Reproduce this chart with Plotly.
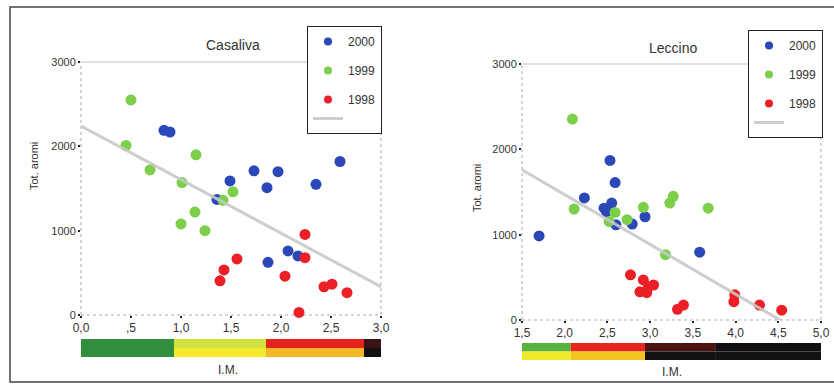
import plotly.graph_objects as go

# ---------------- data ----------------
cas_2000_x = [0.83, 0.89, 1.73, 1.97, 2.59, 1.49, 1.86, 2.35, 1.36, 2.07, 2.17, 1.87]
cas_2000_y = [2190, 2170, 1710, 1700, 1820, 1590, 1510, 1550, 1370, 760, 700, 625]
cas_1999_x = [0.50, 0.45, 0.69, 1.15, 1.01, 1.52, 1.42, 1.14, 1.00, 1.24]
cas_1999_y = [2550, 2010, 1720, 1900, 1570, 1460, 1360, 1220, 1080, 1000]
cas_1998_x = [2.24, 2.24, 1.56, 1.43, 1.39, 2.04, 2.43, 2.51, 2.66, 2.18]
cas_1998_y = [955, 680, 665, 535, 405, 460, 335, 365, 265, 30]
cas_fit_x = [0.0, 3.0]
cas_fit_y = [2240, 335]

lec_2000_x = [1.70, 2.23, 2.53, 2.59, 2.46, 2.55, 2.49, 2.60, 2.79, 2.94, 3.58]
lec_2000_y = [985, 1430, 1870, 1610, 1310, 1370, 1270, 1115, 1125, 1210, 795]
lec_1999_x = [2.09, 2.11, 2.59, 2.52, 2.73, 2.92, 3.23, 3.27, 3.68, 3.18]
lec_1999_y = [2355, 1300, 1260, 1155, 1175, 1320, 1370, 1450, 1310, 765]
lec_1998_x = [2.77, 2.92, 3.04, 2.98, 2.88, 2.96, 3.32, 3.39, 3.99, 3.98, 4.28, 4.54]
lec_1998_y = [530, 470, 410, 390, 330, 320, 125, 175, 295, 215, 175, 115]
lec_fit_x = [1.5, 4.78]
lec_fit_y = [1760, -152]

cas_xticks = [0, 0.5, 1.0, 1.5, 2.0, 2.5, 3.0]
cas_xtext = ["0,0", ",5", "1,0", "1,5", "2,0", "2,5", "3,0"]
lec_xticks = [1.5, 2.0, 2.5, 3.0, 3.5, 4.0, 4.5, 5.0]
lec_xtext = ["1,5", "2,0", "2,5", "3,0", "3,5", "4,0", "4,5", "5,0"]
yticks = [0, 1000, 2000, 3000]

# I.M. colour scale segments (edges on the I.M. axis)
cas_scale_edges = [0.0, 0.93, 1.85, 2.83, 3.03]
cas_scale_top = ["#2f8f3c", "#cfe23c", "#e6231f", "#3a1414"]
cas_scale_bottom = ["#2f8f3c", "#f3ea2e", "#f3b824", "#111111"]
lec_scale_edges = [1.5, 2.07, 2.94, 3.77, 5.05]
lec_scale_top = ["#58b23c", "#e6251f", "#4a1210", "#111111"]
lec_scale_bottom = ["#f0ea2c", "#f4c420", "#111111", "#111111"]

years = ["2000", "1999", "1998"]
colors = ["#2b47b8", "#7ccf4a", "#ec1f26"]

W, H = 834, 387
FONT = "Arial, Liberation Sans, sans-serif"

fig = go.Figure()

def add_panel(xs, ys, fit_x, fit_y, xa, ya, legend):
    for i, (x, y) in enumerate(zip(xs, ys)):
        fig.add_trace(go.Scatter(
            x=x, y=y, mode="markers", name=years[i], showlegend=False,
            marker=dict(color=colors[i], size=11, line=dict(width=0)),
            xaxis=xa, yaxis=ya, cliponaxis=False))
    fig.add_trace(go.Scatter(
        x=fit_x, y=fit_y, mode="lines", name="", showlegend=False,
        line=dict(color="rgba(200,200,200,0.9)", width=3),
        xaxis=xa, yaxis=ya))
    # legend entries (smaller symbols, like the original key)
    groups = [legend + "a", legend + "b", legend + "c"]
    for i in range(3):
        fig.add_trace(go.Scatter(
            x=[None], y=[None], mode="markers", name=years[i],
            marker=dict(color=colors[i], size=8), xaxis=xa, yaxis=ya,
            legend=legend, legendgroup=groups[i]))
    fig.add_trace(go.Scatter(
        x=[None], y=[None], mode="lines", name="",
        line=dict(color="rgba(200,200,200,0.9)", width=3), xaxis=xa, yaxis=ya,
        legend=legend, legendgroup=groups[2]))

add_panel([cas_2000_x, cas_1999_x, cas_1998_x], [cas_2000_y, cas_1999_y, cas_1998_y],
          cas_fit_x, cas_fit_y, "x", "y", "legend")
add_panel([lec_2000_x, lec_1999_x, lec_1998_x], [lec_2000_y, lec_1999_y, lec_1998_y],
          lec_fit_x, lec_fit_y, "x2", "y2", "legend2")

def px_x(p):
    return p / W

def px_y(p):
    return (H - p) / H

axis_common = dict(showgrid=False, zeroline=False, showline=False, automargin=False,
                   ticks="outside", ticklen=2, tickwidth=2, tickcolor="#222")
xfont = dict(family=FONT, size=12, color="#333")
yfont = dict(family=FONT, size=11, color="#333")

legend_common = dict(xanchor="left", yanchor="top",
                     bordercolor="#222", borderwidth=1, bgcolor="white",
                     font=dict(family=FONT, size=12, color="#333"),
                     tracegroupgap=10, itemwidth=30, traceorder="grouped")

fig.update_layout(
    width=W, height=H,
    margin=dict(l=0, r=0, t=0, b=0, autoexpand=False),
    paper_bgcolor="white", plot_bgcolor="white",
    font=dict(family=FONT, color="#333"),
    xaxis=dict(domain=[px_x(81), px_x(381)], range=[0, 3], anchor="y",
               tickvals=cas_xticks, ticktext=cas_xtext, tickfont=xfont, **axis_common),
    yaxis=dict(domain=[px_y(315), px_y(62)], range=[0, 3000], anchor="x",
               tickvals=yticks, tickfont=yfont, **axis_common),
    xaxis2=dict(domain=[px_x(522), px_x(821)], range=[1.5, 5], anchor="y2",
                tickvals=lec_xticks, ticktext=lec_xtext, tickfont=xfont, **axis_common),
    yaxis2=dict(domain=[px_y(320), px_y(64)], range=[0, 3000], anchor="x2",
                tickvals=yticks, tickfont=yfont, **axis_common),
    legend=dict(x=px_x(307), y=px_y(26), **legend_common),
    legend2=dict(x=px_x(748), y=px_y(30), **legend_common),
)

shapes = []
# plot frames
for xa, ya in [("x", "y"), ("x2", "y2")]:
    xd, yd = xa + " domain", ya + " domain"
    shapes.append(dict(type="line", xref=xd, yref=yd, x0=0, x1=1, y0=1, y1=1,
                       line=dict(color="#c4c4c4", width=1), layer="below"))
    for (x0, x1, y0, y1) in [(0, 0, 0, 1), (1, 1, 0, 1), (0, 1, 0, 0)]:
        shapes.append(dict(type="line", xref=xd, yref=yd, x0=x0, x1=x1, y0=y0, y1=y1,
                           line=dict(color="#aaaaaa", width=1, dash="dot"), layer="below"))

# I.M. colour scales
def add_scale(edges, tops, bottoms, xref, ytop, ybot):
    ymid = (ytop + ybot) / 2
    for i in range(len(tops)):
        shapes.append(dict(type="rect", xref=xref, yref="paper",
                           x0=edges[i], x1=edges[i + 1], y0=px_y(ymid), y1=px_y(ytop),
                           fillcolor=tops[i], line=dict(width=0)))
        shapes.append(dict(type="rect", xref=xref, yref="paper",
                           x0=edges[i], x1=edges[i + 1], y0=px_y(ybot), y1=px_y(ymid),
                           fillcolor=bottoms[i], line=dict(width=0)))

add_scale(cas_scale_edges, cas_scale_top, cas_scale_bottom, "x", 339, 357)
add_scale(lec_scale_edges, lec_scale_top, lec_scale_bottom, "x2", 343, 360)

# outer frame
shapes.append(dict(type="rect", xref="paper", yref="paper",
                   x0=px_x(10), x1=1.02, y0=px_y(382), y1=px_y(7),
                   line=dict(color="#444", width=1.5)))
fig.update_layout(shapes=shapes)

ann = [
    dict(text="Casaliva", x=px_x(233), y=px_y(45), size=14, angle=0),
    dict(text="Leccino", x=px_x(673), y=px_y(48), size=14, angle=0),
    dict(text="I.M.", x=px_x(228), y=px_y(370), size=12, angle=0),
    dict(text="I.M.", x=px_x(672), y=px_y(372), size=12, angle=0),
    dict(text="Tot. aromi", x=px_x(34), y=px_y(166), size=11, angle=-90),
    dict(text="Tot. aromi", x=px_x(477), y=px_y(188), size=11, angle=-90),
]
fig.update_layout(annotations=[
    dict(text=a["text"], x=a["x"], y=a["y"], xref="paper", yref="paper",
         showarrow=False, textangle=a["angle"], xanchor="center", yanchor="middle",
         font=dict(family=FONT, size=a["size"], color="#333"))
    for a in ann])

fig.write_html("out.html", config={"displayModeBar": False},
               post_script="document.body.style.margin='0';document.body.style.overflow='hidden';")
